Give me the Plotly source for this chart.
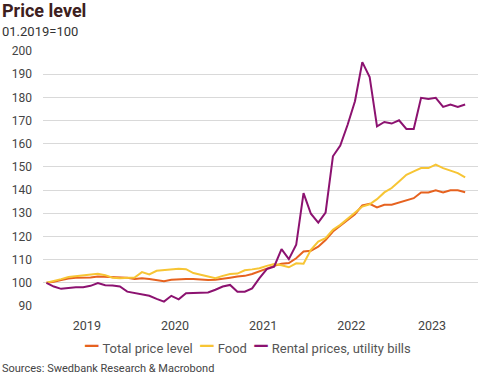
import pandas as pd
import plotly.graph_objects as go

months = pd.date_range("2019-01-01", "2023-10-01", freq="MS")
year_labels = ["2019", "2020", "2021", "2022", "2023"]
series_names = ["Total price level", "Food", "Rental prices, utility bills"]

total = [100.0, 100.4, 101.2, 101.9, 102.2, 102.2, 102.3, 102.7, 102.6, 102.5,
         102.5, 102.2, 101.7, 102.0, 101.6, 101.2, 100.7, 101.3, 101.6, 101.7,
         101.6, 101.3, 101.2, 101.3, 101.6, 102.2, 102.7, 103.0, 103.8, 104.8,
         106.1, 107.3, 108.2, 108.5, 110.6, 113.5, 113.8, 115.6, 118.5, 122.1,
         124.6, 127.2, 129.6, 133.4, 134.1, 132.5, 133.7, 133.7, 134.7, 135.5,
         136.5, 139.0, 139.0, 139.9, 139.0, 139.9, 139.9, 139.1]

food = [100.0, 100.7, 101.6, 102.5, 102.9, 103.3, 103.8, 103.9, 103.3, 102.2,
        102.0, 102.3, 102.3, 104.6, 103.6, 105.2, 105.5, 105.8, 106.1, 105.9,
        104.2, 103.5, 102.7, 102.0, 103.0, 103.8, 104.0, 105.4, 105.8, 106.3,
        107.3, 108.1, 107.6, 106.7, 108.4, 108.2, 114.2, 117.8, 119.3, 122.9,
        125.0, 127.5, 130.1, 132.9, 133.9, 136.1, 139.0, 140.9, 143.7, 146.6,
        148.1, 149.5, 149.5, 151.0, 149.5, 148.5, 147.3, 145.5]

rental = [100.0, 98.4, 97.4, 97.8, 98.1, 98.1, 98.7, 99.9, 99.0, 98.8,
          98.4, 96.2, 95.7, 95.2, 94.4, 93.1, 91.9, 94.4, 92.9, 95.5,
          95.5, 95.5, 95.8, 97.0, 98.4, 99.1, 96.2, 96.2, 97.6, 102.0,
          105.9, 107.0, 114.5, 110.2, 116.4, 138.7, 129.8, 126.0, 130.3, 154.6,
          159.2, 168.2, 178.3, 195.2, 188.8, 167.5, 169.4, 168.7, 170.1, 166.4,
          166.4, 179.8, 179.3, 179.8, 175.9, 176.9, 175.9, 176.9]

colors = ["#E6621F", "#F7C534", "#8C1270"]

x = list(range(len(months)))
years = [m.year for m in months]
tick_pos = []
for yl in year_labels:
    idx = [i for i, yy in enumerate(years) if str(yy) == yl]
    tick_pos.append(sum(idx) / len(idx))

fig = go.Figure()
for name, vals, col in zip(series_names, [total, food, rental], colors):
    fig.add_trace(go.Scatter(x=x, y=vals, mode="lines", name=name,
                             line=dict(color=col, width=2), showlegend=False))

legend_html = "&nbsp;&nbsp;".join(
    f'<span style="color:{c};font-size:20px;font-weight:bold">—</span>&nbsp;{n}'
    for n, c in zip(series_names, colors)
)

PW, PH, ML, MB = 440, 255, 38, 71

def px_x(px):
    return (px - ML) / PW

def px_y(py):
    return (377 - MB - py) / PH

fig.update_layout(
    width=491, height=377,
    margin=dict(l=ML, r=13, t=51, b=MB),
    paper_bgcolor="white", plot_bgcolor="white",
    font=dict(family="Roboto", size=12, color="#444444"),
    showlegend=False,
    xaxis=dict(range=[-0.47, 58.75], tickvals=tick_pos, ticktext=year_labels,
               showgrid=False, zeroline=False, showline=False, ticks="",
               tickfont=dict(size=12.5, color="#444444"), ticklabelstandoff=10),
    yaxis=dict(range=[90, 200], dtick=10, tick0=90, showgrid=True,
               gridcolor="#d9d9d9", gridwidth=1, zeroline=False, showline=False,
               ticks="", tickfont=dict(size=12, color="#444444"),
               ticklabelstandoff=10),
    annotations=[
        dict(text="<b>Price level</b>", xref="paper", yref="paper",
             x=px_x(-6), y=px_y(11), xanchor="left", yanchor="middle",
             showarrow=False, font=dict(size=18, color="#3d2020")),
        dict(text="01.2019=100", xref="paper", yref="paper",
             x=px_x(-6), y=px_y(31), xanchor="left", yanchor="middle",
             showarrow=False, font=dict(size=13, color="#333333")),
        dict(text=legend_html, xref="paper", yref="paper",
             x=px_x(245), y=px_y(346), xanchor="center", yanchor="middle",
             showarrow=False, font=dict(size=13, color="#555555")),
        dict(text="Sources: Swedbank Research & Macrobond", xref="paper", yref="paper",
             x=px_x(-5), y=px_y(368), xanchor="left", yanchor="middle",
             showarrow=False, font=dict(size=11, color="#444444")),
    ],
)

fig.write_html("out.html", config={"displayModeBar": False},
               post_script="document.body.style.margin='0';")
